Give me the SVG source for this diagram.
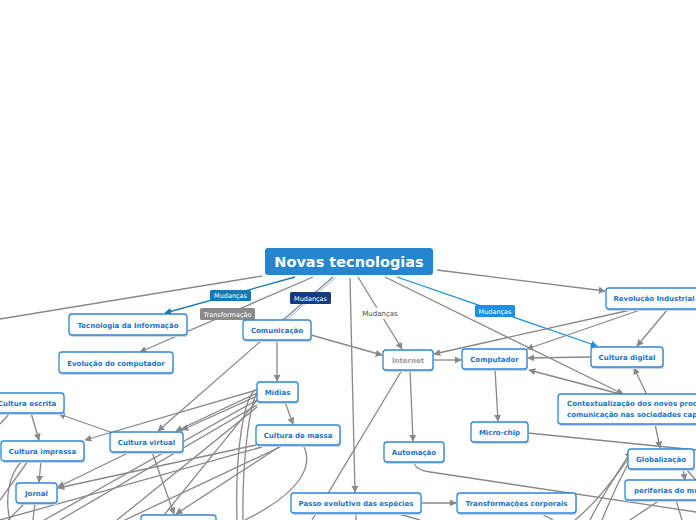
<svg xmlns="http://www.w3.org/2000/svg" width="696" height="520" viewBox="0 0 696 520">
<defs>
<marker id="ah" viewBox="0 0 10 10" refX="9" refY="5" markerWidth="7" markerHeight="7" orient="auto" markerUnits="userSpaceOnUse"><path d="M0,0 L10,5 L0,10 z" fill="#888"/></marker>
<marker id="ahb" viewBox="0 0 10 10" refX="9" refY="5" markerWidth="7" markerHeight="7" orient="auto" markerUnits="userSpaceOnUse"><path d="M0,0 L10,5 L0,10 z" fill="#1479b8"/></marker>
<marker id="ahl" viewBox="0 0 10 10" refX="9" refY="5" markerWidth="7" markerHeight="7" orient="auto" markerUnits="userSpaceOnUse"><path d="M0,0 L10,5 L0,10 z" fill="#1e90e0"/></marker>
</defs>
<style>
.c{fill:none;stroke:#888;stroke-width:1.3}
.a{marker-end:url(#ah)}
.n rect{fill:#fff;stroke:#2f86d8;stroke-width:1.3}
.n .sh{fill:#c9d6e4;stroke:none}
.n text{font-family:"DejaVu Sans",Verdana,sans-serif;font-weight:bold;font-size:7px;fill:#1a73c8;text-anchor:middle}
.lb text{font-family:"DejaVu Sans",Verdana,sans-serif;font-size:6.5px;fill:#fff;text-anchor:middle}
</style>
<rect width="696" height="520" fill="#fff"/>
<g id="connectors">
<path class="c" d="M262,276 L0,319"/>
<path d="M295,277 L165,313" fill="none" stroke="#1479b8" stroke-width="1.3" marker-end="url(#ahb)"/>
<path class="c a" d="M313,277 L140,352"/>
<path class="c" d="M333,277 L283,320"/>
<path d="M335,278 L285,321" fill="none" stroke="#8fb8e8" stroke-width="1"/>
<path class="c a" d="M350,278 L355,492"/>
<path class="c a" d="M358,277 L402,349"/>
<path class="c a" d="M385,277 L623,394"/>
<path class="c a" d="M437,270 L605,291"/>
<path d="M397,277 L597,346" fill="none" stroke="#1e90e0" stroke-width="1.3" marker-end="url(#ahl)"/>
<path class="c a" d="M643,309 L527,349"/>
<path class="c a" d="M635,309 L434,354"/>
<path class="c a" d="M668,309 L637,346"/>
<path class="c a" d="M591,357 L528,358"/>
<path class="c a" d="M433,360 L461,360"/>
<path class="c a" d="M495,369 L498,421"/>
<path class="c a" d="M311,335 L382,355"/>
<path class="c a" d="M277,340 L277,381"/>
<path class="c a" d="M262,340 L158,431"/>
<path class="c a" d="M410,370 L413,441"/>
<path class="c" d="M402,370 L312,520"/>
<path class="c a" d="M285,402 L293,424"/>
<path class="c a" d="M257,393 L176,431"/>
<path class="c a" d="M257,396 L182,430"/>
<path class="c a" d="M257,390 L85,440"/>
<path class="c a" d="M113,433 L59,414"/>
<path class="c a" d="M31,413 L39,440"/>
<path class="c a" d="M41,461 L39,482"/>
<path class="c a" d="M130,452 L58,487"/>
<path class="c a" d="M256,445 L58,488"/>
<path class="c a" d="M152,452 L174,514"/>
<path class="c a" d="M282,445 L176,514"/>
<path class="c a" d="M647,395 L634,368"/>
<path class="c a" d="M620,394 L529,370"/>
<path class="c a" d="M655,424 L660,448"/>
<path class="c a" d="M683,469 L685,480"/>
<path class="c" d="M528,433 L696,450"/>
<path class="c" d="M414,462 Q415,470 430,472 L696,512"/>
<path class="c a" d="M421,503 L456,503"/>
<path class="c" d="M257,400 L0,545"/>
<path class="c" d="M257,405 L60,520"/>
<path class="c" d="M257,407 L117,520"/>
<path class="c" d="M258,399 L160,520"/>
<path class="c" d="M262,447 L0,520"/>
<path class="c" d="M282,446 L40,560"/>
<path class="c" d="M257,389 C244,394 235,450 237,520"/>
<path class="c" d="M258,392 C250,400 242,460 243,520"/>
<path class="c" d="M303,445 C314,465 302,492 245,520"/>
<path class="c" d="M10,413 L0,424"/>
<path class="c" d="M28,461 L0,500"/>
<path class="c" d="M22,461 C8,475 5,500 10,520"/>
<path class="c" d="M35,503 L33,520"/>
<path class="c" d="M25,503 L8,520"/>
<path class="c" d="M628,459 C620,470 600,500 575,520"/>
<path class="c" d="M629,462 C622,475 610,500 602,520"/>
<path class="c a" d="M590,520 C605,490 620,470 631,451"/>
<path class="c" d="M685,468 L696,480"/>
<path class="c" d="M660,500 L630,520"/>
<path class="c" d="M676,500 L682,520"/>
<path class="c" d="M540,513 L553,520"/>
<path class="c" d="M395,513 L420,520"/>
<path class="c" d="M356,513 L356,520"/>
</g>
<g id="labels" class="lb">
<g id="lbl-mud1"><rect x="210" y="290" width="41" height="11" rx="1.5" fill="#1479b8"/><text x="230.5" y="298">Mudanças</text></g>
<g id="lbl-transf"><rect x="200" y="308" width="55" height="12" rx="1.5" fill="#8a8a8a"/><text x="227.5" y="316.5">Transformação</text></g>
<g id="lbl-mud2"><rect x="290" y="292" width="41" height="12" rx="1.5" fill="#173a7e"/><text x="310.5" y="300.5">Mudanças</text></g>
<g id="lbl-mud3"><rect x="360" y="308" width="40" height="11" fill="#fff"/><text x="380" y="316" style="fill:#444;font-size:7px">Mudanças</text></g>
<g id="lbl-mud4"><rect x="475" y="305" width="40" height="12" rx="1.5" fill="#1e90e0"/><text x="495" y="313.5">Mudanças</text></g>
</g>
<g id="root"><rect x="265" y="248" width="168" height="27" rx="3" fill="#2586cf"/><text x="349" y="267" font-family="DejaVu Sans,Verdana,sans-serif" font-weight="bold" font-size="14.5" fill="#fff" text-anchor="middle">Novas tecnologias</text></g>
<g id="tec" class="n"><rect class="sh" x="70" y="316" width="118" height="21" rx="3"/><rect x="69" y="314" width="118" height="21" rx="3"/><text x="128" y="327.5">Tecnologia da Informação</text></g>
<g id="evo" class="n"><rect class="sh" x="60" y="354" width="114" height="21" rx="3"/><rect x="59" y="352" width="114" height="21" rx="3"/><text x="116" y="365.5">Evolução do computador</text></g>
<g id="com" class="n"><rect class="sh" x="244" y="322" width="68" height="20" rx="3"/><rect x="243" y="320" width="68" height="20" rx="3"/><text x="277" y="332.5">Comunicação</text></g>
<g id="internet" class="n"><rect class="sh" x="384" y="352" width="50" height="20" rx="3"/><rect x="383" y="350" width="50" height="20" rx="3"/><text x="408" y="362.5" style="fill:#999">Internet</text></g>
<g id="comp" class="n"><rect class="sh" x="463" y="351" width="65" height="20" rx="3"/><rect x="462" y="349" width="65" height="20" rx="3"/><text x="494.5" y="361.5">Computador</text></g>
<g id="cdig" class="n"><rect class="sh" x="592" y="349" width="72" height="20" rx="3"/><rect x="591" y="347" width="72" height="20" rx="3"/><text x="627" y="359.5">Cultura digital</text></g>
<g id="rev" class="n"><rect class="sh" x="607" y="290" width="96" height="21" rx="3"/><rect x="606" y="288" width="96" height="21" rx="3"/><text x="654" y="301">Revolução Industrial</text></g>
<g id="cesc" class="n"><rect class="sh" x="-9" y="395" width="74" height="20" rx="3"/><rect x="-10" y="393" width="74" height="20" rx="3"/><text x="27" y="405.5">Cultura escrita</text></g>
<g id="cimp" class="n"><rect class="sh" x="2" y="443" width="83" height="20" rx="3"/><rect x="1" y="441" width="83" height="20" rx="3"/><text x="42.5" y="453.5">Cultura impressa</text></g>
<g id="cvir" class="n"><rect class="sh" x="111" y="434" width="73" height="20" rx="3"/><rect x="110" y="432" width="73" height="20" rx="3"/><text x="146.5" y="444.5">Cultura virtual</text></g>
<g id="jornal" class="n"><rect class="sh" x="17" y="485" width="41" height="20" rx="3"/><rect x="16" y="483" width="41" height="20" rx="3"/><text x="36.5" y="495.5">Jornal</text></g>
<g id="midias" class="n"><rect class="sh" x="258" y="384" width="41" height="20" rx="3"/><rect x="257" y="382" width="41" height="20" rx="3"/><text x="277.5" y="394.5">Mídias</text></g>
<g id="cmassa" class="n"><rect class="sh" x="257" y="427" width="84" height="20" rx="3"/><rect x="256" y="425" width="84" height="20" rx="3"/><text x="298" y="437.5">Cultura de massa</text></g>
<g id="auto" class="n"><rect class="sh" x="385" y="444" width="60" height="20" rx="3"/><rect x="384" y="442" width="60" height="20" rx="3"/><text x="414" y="454.5">Automação</text></g>
<g id="passo" class="n"><rect class="sh" x="292" y="495" width="130" height="20" rx="3"/><rect x="291" y="493" width="130" height="20" rx="3"/><text x="356" y="505.5">Passo evolutivo das espécies</text></g>
<g id="transf" class="n"><rect class="sh" x="458" y="495" width="119" height="20" rx="3"/><rect x="457" y="493" width="119" height="20" rx="3"/><text x="516.5" y="505.5">Transformações corporais</text></g>
<g id="micro" class="n"><rect class="sh" x="472" y="424" width="57" height="20" rx="3"/><rect x="471" y="422" width="57" height="20" rx="3"/><text x="499.5" y="434.5">Micro-chip</text></g>
<g id="context" class="n"><rect class="sh" x="559" y="396" width="160" height="30" rx="3"/><rect x="558" y="394" width="160" height="30" rx="3"/><text x="567" y="406" style="text-anchor:start">Contextualização dos novos processos de</text><text x="567" y="417" style="text-anchor:start">comunicação nas sociedades capitalistas</text></g>
<g id="glob" class="n"><rect class="sh" x="629" y="451" width="66" height="20" rx="3"/><rect x="628" y="449" width="66" height="20" rx="3"/><text x="661" y="461.5">Globalização</text></g>
<g id="perif" class="n"><rect class="sh" x="626" y="482" width="90" height="20" rx="3"/><rect x="625" y="480" width="90" height="20" rx="3"/><text x="634" y="492.5" style="text-anchor:start">periferias do mundo</text></g>
<g id="bottomnode" class="n"><rect x="141" y="515" width="75" height="20" rx="3"/></g>
</svg>
